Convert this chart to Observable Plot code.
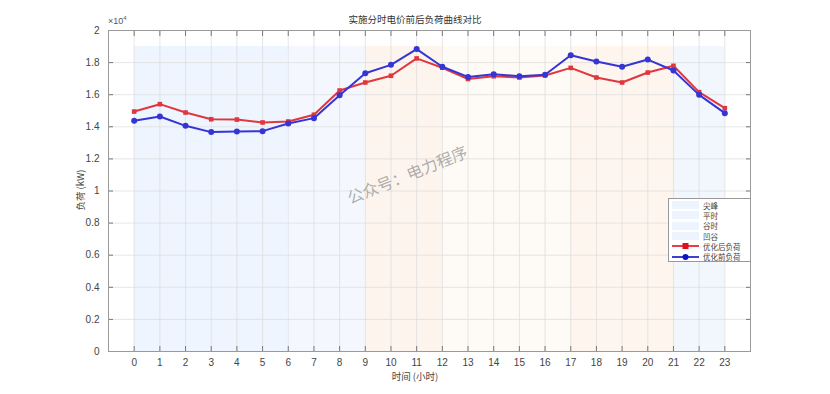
<!DOCTYPE html>
<html>
<head>
<meta charset="utf-8">
<script src="https://cdn.jsdelivr.net/npm/d3@7"></script>
<script src="https://cdn.jsdelivr.net/npm/@observablehq/plot@0.6"></script>
<style>
  body { margin: 0; background: #fff; }
  #wrap { position: relative; width: 830px; height: 394px; overflow: hidden; }
  .t { position: absolute; font-family: "Noto Sans CJK SC", sans-serif; color: #333; white-space: nowrap; }
  #legend { position: absolute; left: 668px; top: 198px; width: 83px; height: 64px; border: 1px solid #999; background: #fff; font-family: "Noto Sans CJK SC", serif; font-size: 7.5px; color: #444; box-sizing: border-box; padding-top: 1px; }
  #legend .row { display: flex; align-items: center; height: 10.3px; }
  #legend svg { width: 27px; height: 10px; margin-left: 3px; margin-right: 4px; }
</style>
</head>
<body>
<div id="wrap"></div>
<script>
const hours = [0,1,2,3,4,5,6,7,8,9,10,11,12,13,14,15,16,17,18,19,20,21,22,23];
const afterLoad = [14950,15410,14890,14470,14450,14270,14330,14750,16260,16760,17180,18260,17680,16980,17150,17070,17200,17670,17070,16760,17380,17800,16160,15160];
const beforeLoad = [14370,14640,14060,13670,13710,13730,14210,14540,15970,17340,17860,18840,17740,17110,17280,17150,17240,18460,18070,17740,18190,17510,15990,14850];
const bandStart = [0,6,9,12,17,21];
const bandEnd = [6,9,12,17,21,23];
const bandTop = 19000;
const bandColor = ["#eef5fe","#f4f8fe","#fdf4ee","#fefaf5","#fdf5ee","#f2f7fe"];
const yTicks = [0,2000,4000,6000,8000,10000,12000,14000,16000,18000,20000];
const legendLabels = ["尖峰","平时","谷时","凹谷","优化后负荷","优化前负荷"];
const redColor = "#e0373f";
const blueColor = "#3535d6";

const bands = bandStart.map((s,i) => ({x1: s, x2: bandEnd[i], y2: bandTop, c: bandColor[i]}));
const after = hours.map((h,i) => ({h, v: afterLoad[i]}));
const before = hours.map((h,i) => ({h, v: beforeLoad[i]}));

const chart = Plot.plot({
  width: 830, height: 394,
  marginLeft: 108, marginRight: 80, marginTop: 30, marginBottom: 43,
  style: {fontFamily: "Liberation Sans, Arial, sans-serif", fontSize: "10px", color: "#444", background: "#fff"},
  x: {domain: [-1, 24], ticks: hours},
  y: {domain: [0, 20000], ticks: yTicks},
  marks: [
    Plot.rectY(bands, {x1: "x1", x2: "x2", y1: 0, y2: "y2", fill: "c"}),
    Plot.gridX(hours, {stroke: "#dcdcdc", strokeOpacity: 0.7}),
    Plot.gridY(yTicks, {stroke: "#dcdcdc", strokeOpacity: 0.7}),
    Plot.axisX(hours, {anchor: "bottom", tickSize: -5, tickPadding: 12, label: null, stroke: "#777", color: "#444"}),
    Plot.axisX(hours, {anchor: "top", tickSize: -5, tickFormat: () => "", label: null, stroke: "#777"}),
    Plot.axisY(yTicks, {anchor: "left", tickSize: -5, tickPadding: 14, tickFormat: d => d / 10000, label: null, stroke: "#777", color: "#444"}),
    Plot.axisY(yTicks, {anchor: "right", tickSize: -5, tickFormat: () => "", label: null, stroke: "#777"}),
    Plot.frame({stroke: "#9a9a9a"}),
    Plot.line(after, {x: "h", y: "v", stroke: redColor, strokeWidth: 2}),
    Plot.dot(after, {x: "h", y: "v", fill: redColor, symbol: "square", r: 2.6}),
    Plot.line(before, {x: "h", y: "v", stroke: blueColor, strokeWidth: 2}),
    Plot.dot(before, {x: "h", y: "v", fill: blueColor, r: 3})
  ]
});
const wrap = document.getElementById("wrap");
wrap.appendChild(chart);

function addText(txt, css) {
  const d = document.createElement("div");
  d.className = "t";
  d.innerHTML = txt;
  Object.assign(d.style, css);
  wrap.appendChild(d);
  return d;
}
addText("实施分时电价前后负荷曲线对比", {left: "0px", width: "830px", textAlign: "center", top: "12px", fontSize: "9.5px", color: "#333"});
addText("×10<sup style='font-size:6px'>4</sup>", {left: "108px", top: "15px", fontSize: "9px", color: "#555", fontFamily: "Liberation Sans, sans-serif"});
addText("时间 (小时)", {left: "0px", width: "830px", textAlign: "center", top: "369px", fontSize: "9.5px", color: "#444"});
addText("负荷 (kW)", {left: "50px", top: "183px", fontSize: "9.5px", color: "#444", transform: "rotate(-90deg)", transformOrigin: "center", width: "60px", textAlign: "center"});
addText("公众号：电力程序", {left: "352px", top: "185px", fontSize: "16px", color: "rgba(140,140,140,0.7)", transform: "rotate(-22deg)", transformOrigin: "left bottom"});

const legend = document.createElement("div");
legend.id = "legend";
legendLabels.forEach((lab, i) => {
  const row = document.createElement("div");
  row.className = "row";
  let sw;
  if (i < 4) {
    sw = `<svg viewBox="0 0 27 10"><rect x="0" y="1" width="27" height="8" fill="#edf4fd"/></svg>`;
  } else {
    const c = i === 4 ? "#e0101a" : "#1010c8";
    const mk = i === 4 ? `<rect x="10.5" y="2" width="6" height="6" fill="${c}"/>` : `<circle cx="13.5" cy="5" r="3" fill="${c}"/>`;
    sw = `<svg viewBox="0 0 27 10"><line x1="0" x2="27" y1="5" y2="5" stroke="${c}" stroke-width="1.6"/>${mk}</svg>`;
  }
  row.innerHTML = sw + `<span>${lab}</span>`;
  legend.appendChild(row);
});
wrap.appendChild(legend);
</script>
</body>
</html>
